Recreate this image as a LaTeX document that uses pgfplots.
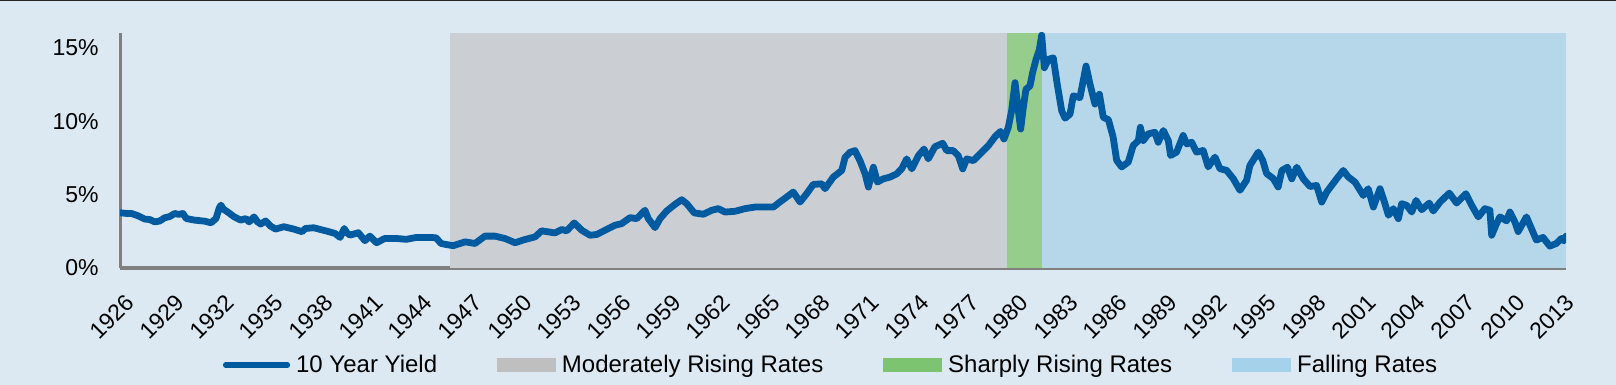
\documentclass[border=0pt]{standalone}
\usepackage{fontspec}
\setmainfont{Liberation Sans}
\usepackage{pgfplots}
\pgfplotsset{compat=1.18}
\definecolor{bg}{RGB}{220,233,242}
\definecolor{axgray}{RGB}{128,128,128}
\definecolor{yieldblue}{RGB}{0,90,160}
\definecolor{bandgray}{RGB}{203,207,211}
\definecolor{bandgreen}{RGB}{150,205,140}
\definecolor{bandblue}{RGB}{182,215,234}
\definecolor{lgray}{RGB}{191,191,191}
\definecolor{lgreen}{RGB}{124,196,112}
\definecolor{lblue}{RGB}{166,209,234}
\begin{document}
\begin{tikzpicture}
\fill[bg] (-60pt,-58.5pt) rectangle (748pt,134pt);
\useasboundingbox (-60pt,-58.5pt) rectangle (748pt,134pt);
\draw[black!85, line width=0.8pt] (-60pt,133.8pt) -- (748pt,133.8pt);
\begin{axis}[
  scale only axis, width=723pt, height=117.5pt,
  at={(0,0)}, anchor=south west,
  xmin=1926, xmax=2013.37, ymin=0, ymax=16,
  axis x line*=bottom, axis y line*=left,
  x axis line style={line width=2pt, color=axgray},
  y axis line style={line width=1.5pt, color=axgray},
  xtick={1926,1929,1932,1935,1938,1941,1944,1947,1950,1953,1956,1959,1962,1965,1968,1971,1974,1977,1980,1983,1986,1989,1992,1995,1998,2001,2004,2007,2010,2013},
  xticklabels={1926,1929,1932,1935,1938,1941,1944,1947,1950,1953,1956,1959,1962,1965,1968,1971,1974,1977,1980,1983,1986,1989,1992,1995,1998,2001,2004,2007,2010,2013},
  ytick={0,5,10,15}, yticklabels={0\%,5\%,10\%,15\%},
  major tick length=0pt,
  tick label style={font=\fontsize{11.5}{13}\selectfont, text=black},
  xticklabel style={inner sep=0pt, xshift=5.35pt, yshift=-15.35pt, rotate=45, anchor=east},
  yticklabel style={inner sep=0pt, xshift=-10.5pt, anchor=east},
  legend columns=-1,
  legend style={draw=none, fill=none, inner sep=0pt, outer sep=0pt,
    at={(axis description cs:0.0712,-0.4128)}, anchor=west,
    font=\fontsize{12}{14}\selectfont,
    nodes={inner sep=0.5pt},
    /tikz/every odd column/.append style={column sep=2.5pt},
    /tikz/every even column/.append style={column sep=29.5pt}},
]
\addplot[fill=bandgray, draw=none, forget plot] coordinates {(1945.95,16) (1979.62,16)} \closedcycle;
\addplot[fill=bandgreen, draw=none, forget plot] coordinates {(1979.62,16) (1981.72,16)} \closedcycle;
\addplot[fill=bandblue, draw=none, forget plot] coordinates {(1981.72,16) (2013.37,16)} \closedcycle;
\addplot[yieldblue, line width=3.4pt, line join=round, line cap=round, no marks,
  legend image code/.code={\draw[line width=2.6pt, line cap=round] (0pt,0pt) -- (31pt,0pt);}]
coordinates {
(1926.00,3.76) (1926.35,3.72) (1926.70,3.71) (1927.10,3.55) (1927.50,3.33) (1927.80,3.30)
(1928.10,3.14) (1928.40,3.20) (1928.70,3.42) (1929.00,3.50) (1929.30,3.71) (1929.55,3.65)
(1929.80,3.71) (1930.00,3.37) (1930.50,3.26) (1931.10,3.19) (1931.50,3.08) (1931.80,3.37)
(1932.00,4.10) (1932.10,4.28) (1932.25,4.00) (1932.50,3.82) (1932.90,3.48) (1933.30,3.26)
(1933.60,3.37) (1933.80,3.14) (1934.10,3.48) (1934.30,3.15) (1934.50,2.99) (1934.80,3.20)
(1935.10,2.85) (1935.40,2.65) (1935.90,2.81) (1936.50,2.65) (1937.00,2.47) (1937.20,2.69)
(1937.70,2.74) (1938.50,2.51) (1939.00,2.35) (1939.30,2.08) (1939.55,2.69) (1939.70,2.40)
(1939.90,2.24) (1940.40,2.40) (1940.80,1.86) (1941.10,2.17) (1941.50,1.72) (1942.00,2.01)
(1942.70,2.01) (1943.30,1.95) (1943.90,2.08) (1944.80,2.08) (1945.10,2.05) (1945.40,1.67)
(1945.70,1.60) (1946.14,1.52) (1946.85,1.78) (1947.45,1.67) (1948.05,2.17) (1948.66,2.17)
(1949.26,2.01) (1949.87,1.72) (1950.47,1.94) (1951.08,2.12) (1951.48,2.53) (1951.88,2.46)
(1952.28,2.39) (1952.69,2.62) (1952.99,2.53) (1953.45,3.07) (1953.90,2.57) (1954.40,2.23)
(1954.80,2.28) (1955.31,2.57) (1955.91,2.91) (1956.31,3.02) (1956.82,3.43) (1957.22,3.36)
(1957.72,3.93) (1957.92,3.36) (1958.33,2.75) (1958.63,3.36) (1959.03,3.88) (1959.53,4.33)
(1959.94,4.65) (1960.24,4.38) (1960.70,3.75) (1961.25,3.66) (1961.75,3.93) (1962.15,4.04)
(1962.56,3.81) (1963.16,3.86) (1963.76,4.04) (1964.37,4.15) (1964.97,4.15) (1965.48,4.15)
(1965.88,4.50) (1966.28,4.83) (1966.68,5.17) (1967.09,4.49) (1967.49,5.06) (1967.89,5.69)
(1968.40,5.73) (1968.60,5.40) (1969.10,6.19) (1969.61,6.64) (1969.81,7.54) (1970.11,7.88)
(1970.41,7.99) (1970.71,7.31) (1971.02,6.41) (1971.22,5.51) (1971.52,6.86) (1971.76,5.85)
(1972.12,6.07) (1972.53,6.19) (1972.93,6.41) (1973.23,6.75) (1973.53,7.43) (1973.84,6.75)
(1974.24,7.65) (1974.58,8.10) (1974.84,7.43) (1975.24,8.26) (1975.71,8.49) (1975.95,7.99)
(1976.35,7.99) (1976.65,7.65) (1976.92,6.75) (1977.16,7.43) (1977.56,7.31) (1978.07,7.88)
(1978.47,8.33) (1978.87,8.94) (1979.20,9.30) (1979.41,8.78) (1979.67,9.57) (1979.87,10.70)
(1980.08,12.62) (1980.28,10.70) (1980.42,9.46) (1980.58,10.93) (1980.74,12.17) (1980.98,12.39)
(1981.14,13.30) (1981.35,14.20) (1981.55,14.88) (1981.69,15.85) (1981.85,13.63) (1982.09,14.20)
(1982.39,14.31) (1982.63,12.51) (1982.90,10.70) (1983.10,10.20) (1983.40,10.47) (1983.60,11.72)
(1984.00,11.60) (1984.37,13.75) (1984.61,12.51) (1984.91,11.16) (1985.18,11.83) (1985.41,10.26)
(1985.72,10.10) (1986.01,8.90) (1986.22,7.33) (1986.52,6.88) (1986.92,7.21) (1987.22,8.34)
(1987.53,8.67) (1987.65,9.58) (1987.83,8.68) (1988.13,9.13) (1988.53,9.24) (1988.73,8.56)
(1989.04,9.36) (1989.34,8.68) (1989.48,7.66) (1989.84,7.89) (1990.24,9.02) (1990.45,8.45)
(1990.75,8.56) (1991.05,7.89) (1991.45,8.00) (1991.75,6.88) (1992.16,7.55) (1992.46,6.76)
(1992.86,6.65) (1993.26,6.09) (1993.67,5.29) (1994.07,5.97) (1994.27,6.98) (1994.78,7.89)
(1995.05,7.31) (1995.28,6.43) (1995.68,6.09) (1995.98,5.52) (1996.20,6.64) (1996.54,6.86)
(1996.80,6.07) (1997.10,6.86) (1997.50,6.07)
(1997.90,5.55) (1998.30,5.62) (1998.61,4.49) (1998.91,5.17) (1999.51,6.07) (1999.91,6.64)
(2000.22,6.19) (2000.62,5.85) (2001.12,4.94) (2001.42,5.40) (2001.73,4.15) (2002.13,5.40)
(2002.37,4.60) (2002.64,3.59) (2002.94,4.04) (2003.24,3.36) (2003.44,4.38) (2003.74,4.27)
(2004.05,3.81) (2004.31,4.60) (2004.65,3.97) (2005.11,4.42) (2005.35,3.88) (2005.76,4.49)
(2006.32,5.10) (2006.76,4.42) (2007.32,5.06) (2007.67,4.27) (2008.07,3.48) (2008.47,4.04)
(2008.77,3.93) (2008.88,2.23) (2009.17,3.02) (2009.38,3.48) (2009.78,3.21) (2009.98,3.81)
(2010.28,3.14) (2010.48,2.48) (2010.98,3.48) (2011.28,2.69) (2011.58,1.90) (2011.98,2.08)
(2012.39,1.49) (2012.79,1.67) (2013.09,2.01) (2013.23,1.85) (2013.37,2.17)
};
\addlegendentry{10 Year Yield}
\addlegendimage{legend image code/.code={\fill[lgray] (0pt,-3.2pt) rectangle (29pt,3.2pt);}}
\addlegendentry{Moderately Rising Rates}
\addlegendimage{legend image code/.code={\fill[lgreen] (0pt,-3.2pt) rectangle (29pt,3.2pt);}}
\addlegendentry{Sharply Rising Rates}
\addlegendimage{legend image code/.code={\fill[lblue] (0pt,-3.2pt) rectangle (29pt,3.2pt);}}
\addlegendentry{Falling Rates}
\end{axis}
\end{tikzpicture}
\end{document}
